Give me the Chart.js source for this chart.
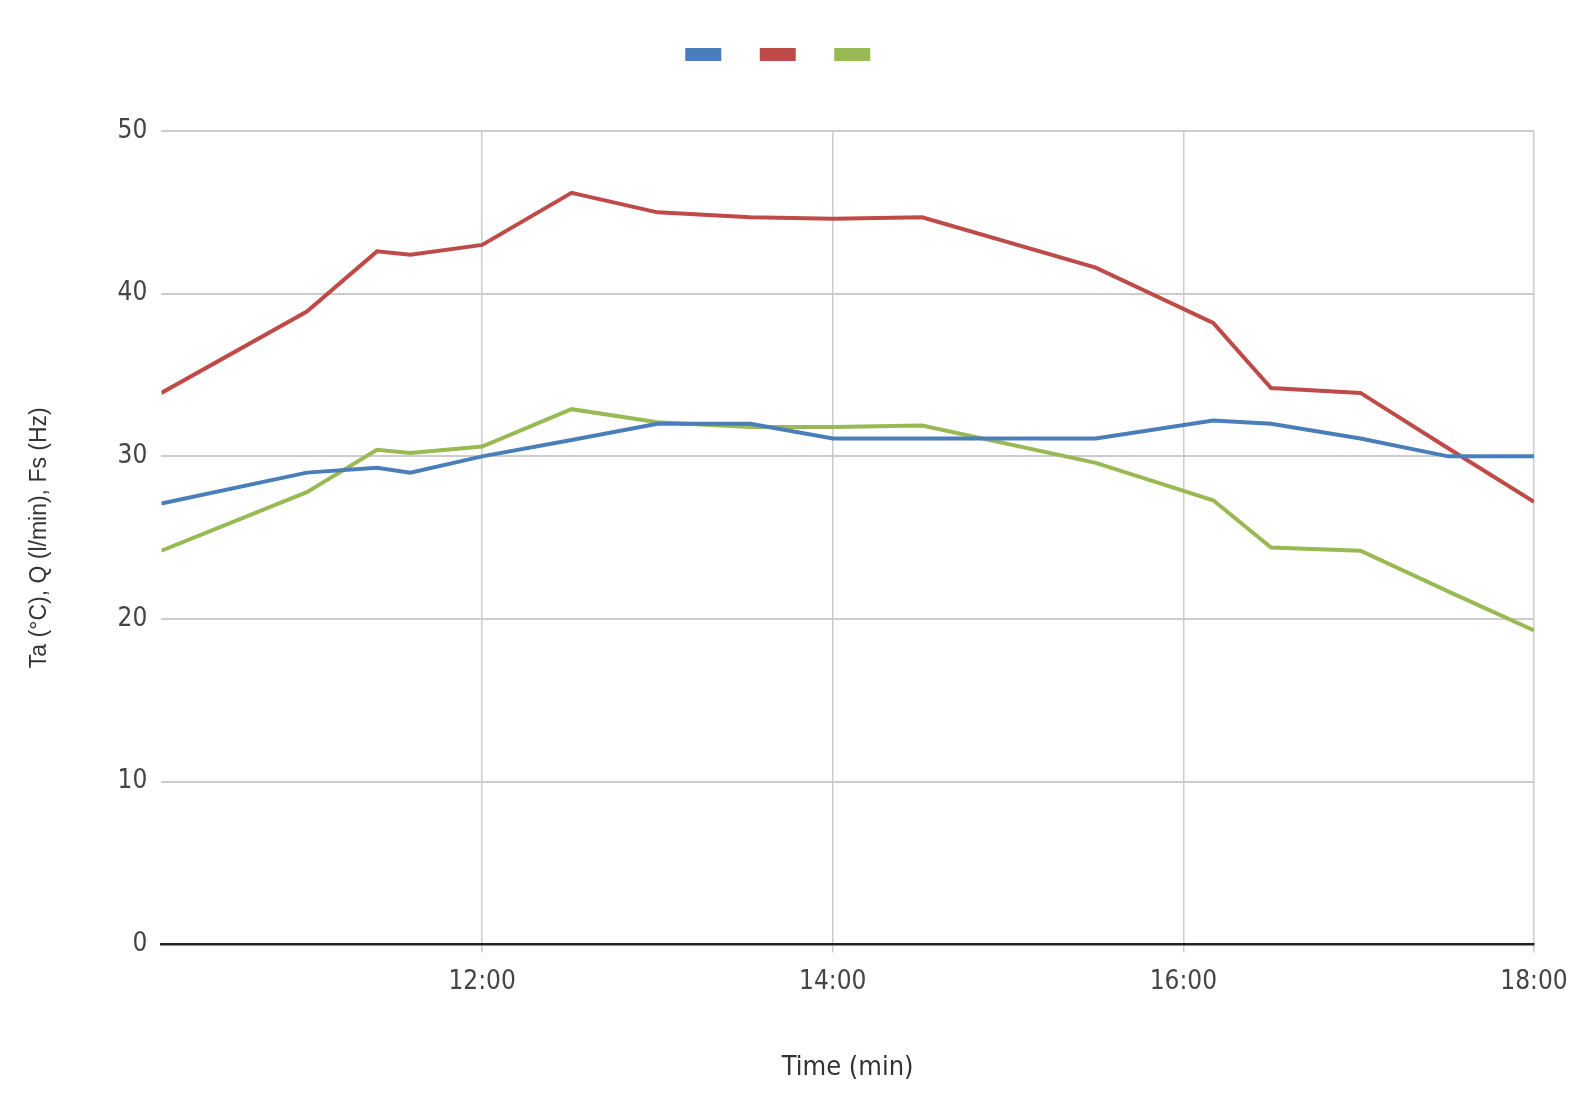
<!DOCTYPE html>
<html><head><meta charset="utf-8">
<script src="https://cdn.jsdelivr.net/npm/chart.js@4"></script>
<style>html,body{margin:0;background:#fff}#wrap{width:1586px;height:1118px}</style>
</head><body><div id="wrap"><canvas id="c"></canvas></div>
<script>
// hours as decimal
const hours = [10.17, 11.0, 11.4, 11.59, 12.0, 12.51, 13.0, 13.53, 14.0, 14.51, 15.5, 16.17, 16.5, 17.01, 17.51, 18.0];
const blue  = [27.1, 29.0, 29.3, 29.0, 30.0, 31.0, 32.0, 32.0, 31.1, 31.1, 31.1, 32.2, 32.0, 31.1, 30.0, 30.0];
const red   = [33.9, 38.9, 42.6, 42.4, 43.0, 46.2, 45.0, 44.7, 44.6, 44.7, 41.6, 38.2, 34.2, 33.9, 30.5, 27.2];
const green = [24.2, 27.8, 30.4, 30.2, 30.6, 32.9, 32.1, 31.8, 31.8, 31.9, 29.6, 27.3, 24.4, 24.2, 21.7, 19.3];
const xTicks = [12, 14, 16, 18];

const pts = arr => arr.map((v,i)=>({x:hours[i], y:v}));
const ds = (data,color)=>({label:'', data:pts(data), borderColor:color, backgroundColor:color,
  borderWidth:4, pointRadius:0, tension:0});

// push plot area down below the legend
const legendGap = {id:'legendGap', beforeInit(chart){
  const fit = chart.legend.fit;
  chart.legend.fit = function(){ fit.call(this); this.height += 62; };
}};

new Chart(document.getElementById('c'), {
  type:'line',
  data:{datasets:[ds(blue,'#4a7ebb'), ds(red,'#be4b48'), ds(green,'#98b954')]},
  plugins:[legendGap],
  options:{
    responsive:true, maintainAspectRatio:false, animation:false,
    layout:{padding:{left:22, right:52, top:8, bottom:30}},
    plugins:{
      legend:{labels:{boxWidth:32, boxHeight:9, padding:42, font:{size:1}}},
      tooltip:{enabled:false}
    },
    scales:{
      x:{type:'linear', min:10.17, max:18,
        afterBuildTicks:ax=>{ax.ticks = xTicks.map(v=>({value:v}));},
        ticks:{callback:v=>v+':00', color:'#444', font:{family:'Liberation Sans Narrow, DejaVu Sans Condensed, sans-serif', size:26}, padding:14, maxRotation:0},
        grid:{color:'#cccccc', lineWidth:1.5},
        border:{display:true, color:'#222', width:2.5},
        title:{display:true, text:'Time (min)', color:'#333', font:{family:'Liberation Sans Narrow, DejaVu Sans Condensed, sans-serif', size:27}, padding:{top:40}}
      },
      y:{min:0, max:50,
        ticks:{stepSize:10, color:'#444', font:{family:'Liberation Sans Narrow, DejaVu Sans Condensed, sans-serif', size:26}, padding:14},
        grid:{color:'#cccccc', lineWidth:2, drawTicks:false},
        border:{display:false},
        title:{display:true, text:'Ta (°C), Q (l/min), Fs (Hz)', color:'#333', font:{family:'Liberation Sans, DejaVu Sans, sans-serif', size:23}, padding:{bottom:50}}
      }
    }
  }
});
</script></body></html>
